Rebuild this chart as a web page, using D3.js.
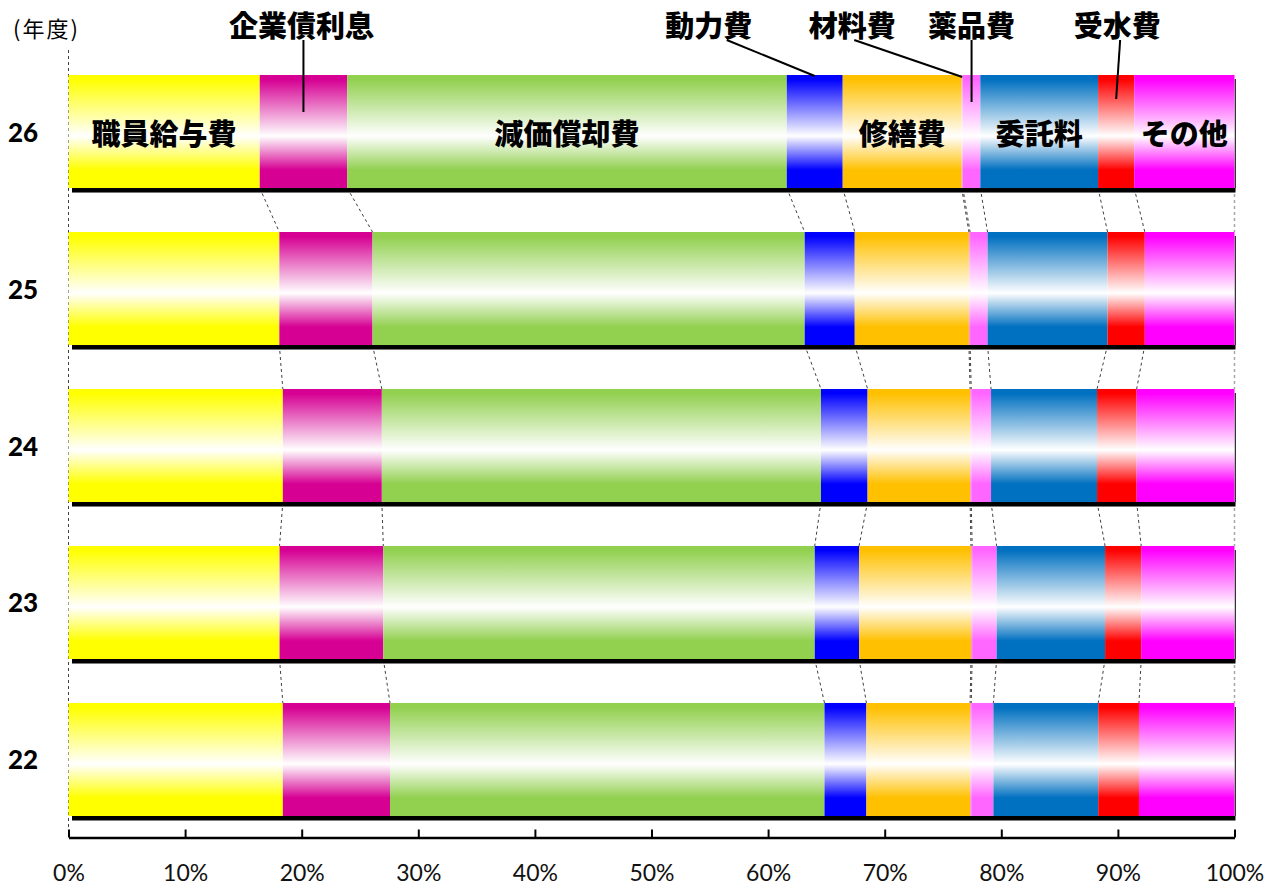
<!DOCTYPE html>
<html lang="ja">
<head>
<meta charset="utf-8">
<title>費用構成比の推移</title>
<script src="https://cdn.jsdelivr.net/npm/d3@7"></script>
<style>
  html, body { margin: 0; padding: 0; background: #fff; }
  svg { display: block; }
</style>
</head>
<body>
<svg id="chart" width="1280" height="888"></svg>
<script>
// 年度（上から順に描画）
const years = ["26", "25", "24", "23", "22"];

// 費目
const categories = ["職員給与費", "企業債利息", "減価償却費", "動力費", "修繕費",
                    "材料費", "薬品費", "委託料", "受水費", "その他"];

// 各年度の構成比（%）— categories と同じ順
const values26 = [16.4, 7.5, 37.7, 4.8, 10.2, 0.1, 1.5, 10.1, 3.1, 8.6];
const values25 = [18.1, 8.0, 37.1, 4.3, 9.8, 0.1, 1.5, 10.3, 3.2, 7.7];
const values24 = [18.4, 8.5, 37.7, 4.0, 8.8, 0.1, 1.7, 9.1, 3.4, 8.4];
const values23 = [18.1, 8.9, 37.0, 3.8, 9.6, 0.1, 2.1, 9.3, 3.1, 8.0];
const values22 = [18.4, 9.2, 37.3, 3.6, 8.9, 0.1, 1.9, 9.0, 3.5, 8.2];

// 目盛り
const tickValues = [0, 0.1, 0.2, 0.3, 0.4, 0.5, 0.6, 0.7, 0.8, 0.9, 1.0];

// 費目ごとの色
const colors = ["#FFFF00", "#D60093", "#92D050", "#0000FF", "#FFC000",
                "#FF99CC", "#FF66FF", "#0070C0", "#FF0000", "#FF00FF"];

// 棒の中に書く費目（最上段のみ）
const insideLabels = ["職員給与費", "減価償却費", "修繕費", "委託料", "その他"];

// 棒の上に引き出し線で書く費目：ラベル位置のずれ(dx)、線の始点(sx)、線の終点の深さ(ey)
const callouts = [
  { key: "企業債利息", dx: -2,   sx: 2,  ey: 37 },
  { key: "動力費",     dx: -106, sx: 18, ey: 1 },
  { key: "材料費",     dx: -110, sx: 2,  ey: 2 },
  { key: "薬品費",     dx: 0,    sx: 0,  ey: 27 },
  { key: "受水費",     dx: 1,    sx: 3,  ey: 24 }
];

const rows = [values26, values25, values24, values23, values22].map((vals, i) => {
  const r = { year: years[i] };
  categories.forEach((c, j) => { r[c] = vals[j]; });
  return r;
});

const svg = d3.select("#chart");
const defs = svg.append("defs");

const x = d3.scaleLinear().domain([0, 1]).range([68.5, 1234.5]);
const y = d3.scaleBand().domain(years).range([75, 816]).paddingInner(0.28).paddingOuter(0);
const color = d3.scaleOrdinal().domain(categories).range(colors);

const series = d3.stack().keys(categories).offset(d3.stackOffsetExpand)(rows);

// 縦方向のグラデーション（色 → 白 → 色）
categories.forEach((c, i) => {
  const g = defs.append("linearGradient")
    .attr("id", "grad" + i)
    .attr("x1", 0).attr("y1", 0).attr("x2", 0).attr("y2", 1);
  const col = color(c);
  [[0, col], [0.04, col], [0.54, "#FFFFFF"], [0.84, col], [1, col]].forEach(([o, s]) => {
    g.append("stop").attr("offset", o).attr("stop-color", s);
  });
});

const bw = y.bandwidth();

// 0% の破線
svg.append("line")
  .attr("x1", x(0)).attr("x2", x(0))
  .attr("y1", 50).attr("y2", 837)
  .attr("stroke", "#404040").attr("stroke-width", 1)
  .attr("stroke-dasharray", "3,3");

// 区分線（年度間を結ぶ破線）
const boundaryIdx = d3.range(categories.length);
const linkG = svg.append("g");
for (let r = 0; r < years.length - 1; r++) {
  boundaryIdx.forEach(k => {
    const x0 = x(series[k][r][1]);
    const x1 = x(series[k][r + 1][1]);
    const last = k === categories.length - 1;
    linkG.append("line")
      .attr("x1", x0).attr("y1", y(years[r]) + bw)
      .attr("x2", x1).attr("y2", y(years[r + 1]))
      .attr("stroke", last ? "#A6A6A6" : "#404040")
      .attr("stroke-width", last ? 1.5 : 1)
      .attr("stroke-dasharray", "3,3");
  });
}

// 棒
const barG = svg.append("g");
series.forEach((s, i) => {
  barG.append("g")
    .attr("fill", `url(#grad${i})`)
    .selectAll("rect")
    .data(s)
    .join("rect")
    .attr("x", d => x(d[0]))
    .attr("y", d => y(d.data.year))
    .attr("width", d => Math.max(0, x(d[1]) - x(d[0])))
    .attr("height", bw);
});

// 棒の下の太線と右端の線
svg.append("g").selectAll("rect")
  .data(years)
  .join("rect")
  .attr("x", x(0) + 3.5)
  .attr("y", d => y(d) + bw)
  .attr("width", x(1) - x(0) - 2.5)
  .attr("height", 4.5)
  .attr("fill", "#000");
svg.append("g").selectAll("line")
  .data(years)
  .join("line")
  .attr("x1", x(1) + 0.8).attr("x2", x(1) + 0.8)
  .attr("y1", d => y(d) + 4)
  .attr("y2", d => y(d) + bw)
  .attr("stroke", "#000").attr("stroke-width", 1);

// 年度ラベル
svg.append("g").selectAll("text")
  .data(years)
  .join("text")
  .attr("x", 23)
  .attr("y", d => y(d) + bw / 2)
  .attr("text-anchor", "middle")
  .attr("dominant-baseline", "central")
  .attr("font-family", "Lato, 'Liberation Sans', sans-serif")
  .attr("font-weight", 900)
  .attr("font-size", 26)
  .attr("fill", "#000")
  .text(d => d);

svg.append("text")
  .attr("x", 13).attr("y", 37)
  .attr("font-family", "'Noto Sans CJK JP', sans-serif")
  .attr("font-size", 22)
  .attr("letter-spacing", 2)
  .attr("fill", "#000")
  .text("(年度)");

// 最上段の棒の中の費目名
const topYear = years[0];
const segCenter = key => {
  const k = categories.indexOf(key);
  const d = series[k][0];
  return (x(d[0]) + x(d[1])) / 2;
};
svg.append("g").selectAll("text")
  .data(insideLabels)
  .join("text")
  .attr("x", d => segCenter(d))
  .attr("y", y(topYear) + bw / 2)
  .attr("text-anchor", "middle")
  .attr("dominant-baseline", "central")
  .attr("font-family", "'Noto Sans CJK JP', sans-serif")
  .attr("font-weight", 900)
  .attr("font-size", 29)
  .attr("fill", "#000")
  .text(d => d);

// 引き出し線付きの費目名
const callG = svg.append("g");
callouts.forEach(c => {
  const cx = segCenter(c.key);
  const lx = cx + c.dx;
  callG.append("line")
    .attr("x1", lx + c.sx).attr("y1", 40)
    .attr("x2", cx).attr("y2", y(topYear) + c.ey)
    .attr("stroke", "#000").attr("stroke-width", 2);
  callG.append("text")
    .attr("x", lx).attr("y", 24)
    .attr("text-anchor", "middle")
    .attr("dominant-baseline", "central")
    .attr("font-family", "'Noto Sans CJK JP', sans-serif")
    .attr("font-weight", 900)
    .attr("font-size", 29)
    .attr("fill", "#000")
    .text(c.key);
});

// 横軸
const axis = d3.axisBottom(x)
  .tickValues(tickValues)
  .tickFormat(d3.format(".0%"))
  .tickSizeInner(-8)
  .tickSizeOuter(0)
  .tickPadding(27);
const axG = svg.append("g")
  .attr("transform", "translate(0,837.5)")
  .call(axis);
axG.select(".domain").attr("stroke", "#000").attr("stroke-width", 2.5);
axG.selectAll(".tick line").attr("stroke", "#000").attr("stroke-width", 2);
axG.selectAll(".tick text")
  .attr("font-family", "Lato, 'Liberation Sans', sans-serif")
  .attr("font-size", 23)
  .attr("fill", "#111");
</script>
</body>
</html>
